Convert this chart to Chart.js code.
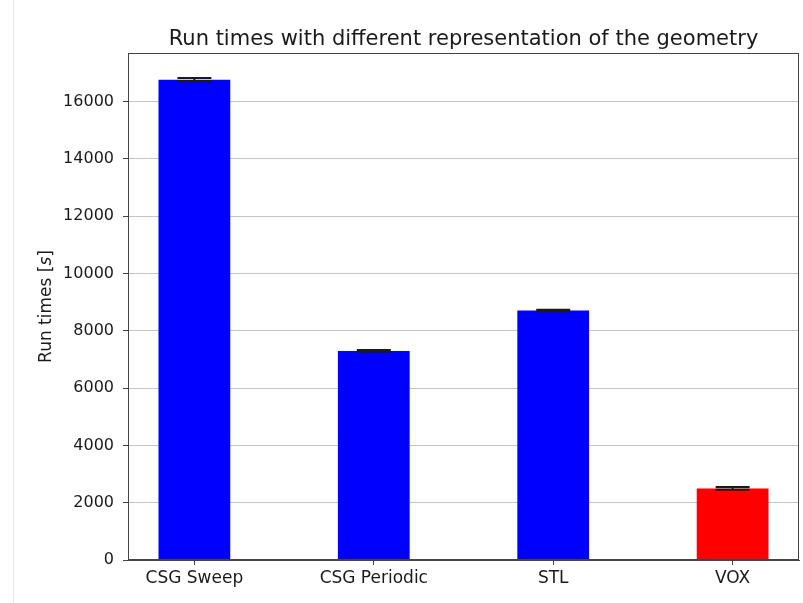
<!DOCTYPE html>
<html>
<head>
<meta charset="utf-8">
<script src="https://cdn.jsdelivr.net/npm/chart.js@4"></script>
<style>
  html, body { margin: 0; padding: 0; background: #fff; }
  #wrap { position: relative; width: 803px; height: 603px; }
  #edge { position: absolute; left: 13px; top: 0; width: 0; height: 603px; border-left: 1px solid #e4e4e4; }
</style>
</head>
<body>
<div id="wrap">
  <canvas id="c" width="803" height="603"></canvas>
  <div id="edge"></div>
</div>
<script>
// Run times per geometry representation (seconds), with spread
const categories = ['CSG Sweep', 'CSG Periodic', 'STL', 'VOX'];
const runTimes = [16770, 7300, 8710, 2500];
const runErrors = [55, 30, 25, 45];
const barColors = ['#0000ff', '#0000ff', '#0000ff', '#ff0000'];
const yTicks = [0, 2000, 4000, 6000, 8000, 10000, 12000, 14000, 16000];

const FONT = "'DejaVu Sans', sans-serif";

// Error bars with caps, drawn from the dataset values through the scales
const errorBars = {
  id: 'errorBars',
  afterDatasetsDraw(chart) {
    const { ctx, scales: { x, y } } = chart;
    ctx.save();
    ctx.strokeStyle = '#1a1a1a';
    ctx.lineWidth = 2;
    runTimes.forEach((v, i) => {
      const px = x.getPixelForValue(i);
      const lo = y.getPixelForValue(v - runErrors[i]);
      const hi = y.getPixelForValue(v + runErrors[i]);
      ctx.beginPath();
      ctx.moveTo(px, lo); ctx.lineTo(px, hi);
      ctx.moveTo(px - 17, hi); ctx.lineTo(px + 17, hi);
      ctx.moveTo(px - 17, lo); ctx.lineTo(px + 17, lo);
      ctx.stroke();
    });
    ctx.restore();
  }
};

// Frame, title and y-axis label with an italic unit symbol
const decorations = {
  id: 'decorations',
  afterDraw(chart) {
    const { ctx, chartArea: a } = chart;
    ctx.save();
    ctx.strokeStyle = '#444';
    ctx.lineWidth = 1;
    ctx.strokeRect(a.left + 0.5, a.top + 0.5, a.right - a.left - 1, a.bottom - a.top - 1);

    ctx.fillStyle = '#1a1a1a';
    ctx.font = '21px ' + FONT;
    ctx.textAlign = 'center';
    ctx.textBaseline = 'alphabetic';
    ctx.fillText('Run times with different representation of the geometry', (a.left + a.right) / 2, 45);

    const parts = [['Run times [', 'normal'], ['s', 'italic'], [']', 'normal']];
    const fontFor = s => s + ' 17px ' + FONT;
    let total = 0;
    parts.forEach(([t, s]) => { ctx.font = fontFor(s); total += ctx.measureText(t).width; });
    ctx.translate(51, (a.top + a.bottom) / 2);
    ctx.rotate(-Math.PI / 2);
    ctx.textAlign = 'left';
    let xpos = -total / 2;
    parts.forEach(([t, s]) => {
      ctx.font = fontFor(s);
      ctx.fillText(t, xpos, 0);
      xpos += ctx.measureText(t).width;
    });
    ctx.restore();
  }
};

new Chart(document.getElementById('c'), {
  type: 'bar',
  data: {
    datasets: [{
      data: runTimes.map((v, i) => ({ x: i, y: v })),
      backgroundColor: barColors,
      borderWidth: 0,
      barPercentage: 0.4,
      categoryPercentage: 1.0
    }]
  },
  options: {
    responsive: false,
    animation: false,
    layout: { padding: { top: 53, right: 4, left: 0, bottom: 0 } },
    plugins: { legend: { display: false }, tooltip: { enabled: false }, title: { display: false } },
    scales: {
      x: {
        type: 'linear',
        offset: false,
        min: -0.37,
        max: 3.37,
        afterBuildTicks(scale) { scale.ticks = categories.map((_, i) => ({ value: i })); },
        afterFit(scale) { scale.height = 43; },
        ticks: {
          callback: v => categories[v],
          font: { family: FONT, size: 17 },
          color: '#1a1a1a',
          padding: 3,
          maxRotation: 0,
          autoSkip: false
        },
        grid: { offset: false, drawOnChartArea: false, drawTicks: true, tickLength: 5, color: '#444' },
        border: { color: '#444' }
      },
      y: {
        min: 0,
        max: 17700,
        z: 1,
        afterBuildTicks(scale) { scale.ticks = yTicks.map(v => ({ value: v })); },
        afterFit(scale) { scale.width = 128; },
        ticks: {
          font: { family: FONT, size: 16 },
          color: '#1a1a1a',
          padding: 9,
          includeBounds: false,
          callback: v => String(v)
        },
        grid: {
          color: 'rgba(176,176,176,0.75)',
          lineWidth: 1,
          tickColor: '#444',
          tickLength: 5
        },
        border: { color: '#444' }
      }
    }
  },
  plugins: [errorBars, decorations]
});
</script>
</body>
</html>
